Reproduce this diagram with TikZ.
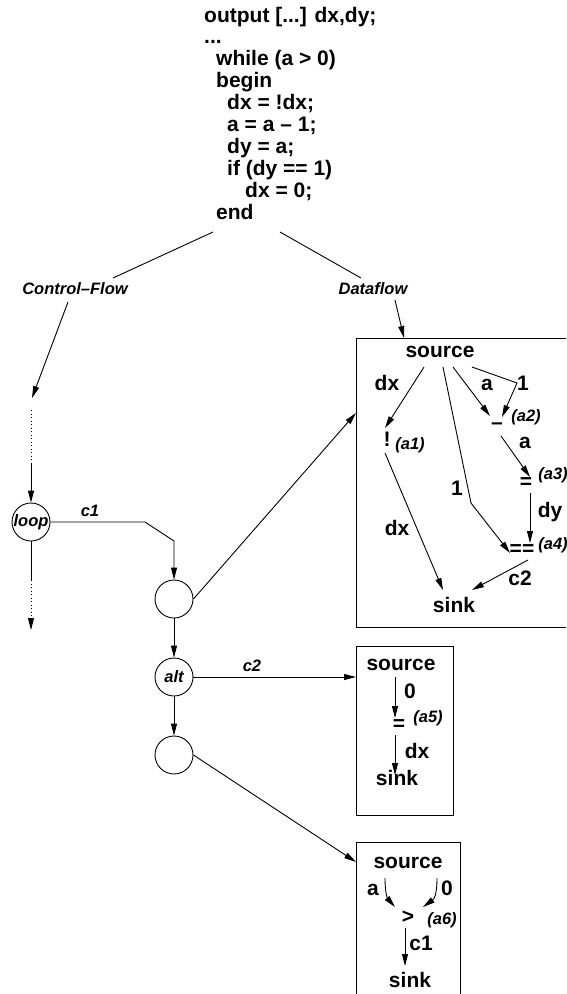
\documentclass[tikz,border=0pt]{standalone}
\usepackage{fontspec}
\setmainfont{Liberation Sans}
\usetikzlibrary{arrows.meta,calc}
\begin{document}
\begin{tikzpicture}[x=1pt,y=-1pt,
  code/.style={anchor=base west,inner sep=0pt,font=\fontsize{21}{22}\selectfont\bfseries},
  lbl/.style={inner sep=0pt,text height=15pt,text depth=4.5pt,font=\fontsize{21}{22}\selectfont\bfseries},
  itl/.style={inner sep=0pt,text height=12pt,text depth=3.5pt,font=\fontsize{16.5}{18}\selectfont\bfseries\itshape},
  conn/.style={line width=0.9pt},
  arr/.style={conn,-{Triangle[length=12pt,width=6pt]}},
  dots/.style={line width=0.9pt,dash pattern=on 0.9pt off 2.6pt},
  circ/.style={circle,draw,line width=0.9pt,minimum size=38pt,inner sep=0pt,
    font=\fontsize{16.5}{18}\selectfont\bfseries\itshape},
  boxnode/.style={draw,line width=0.9pt,anchor=north west,inner sep=0pt}]
\useasboundingbox (0,0) rectangle (566,994);
\clip (0,0) rectangle (566,994);
% code
\node[code] (l0) at (204,22) {output [...] dx,dy;};
\node[code] (l1) at (204,43.9) {...};
\node[code] (l2) at (216,65.8) {while (a > 0)};
\node[code] (l3) at (216,87.7) {begin};
\node[code] (l4) at (227,109.6) {dx = !dx;};
\node[code] (l5) at (227,131.5) {a = a -- 1;};
\node[code] (l6) at (227,153.4) {dy = a;};
\node[code] (l7) at (227,175.3) {if (dy == 1)};
\node[code] (l8) at (245,197.2) {dx = 0;};
\node[code] (l9) at (216,219.1) {end};
\coordinate (cTop) at (213,232);
\coordinate (dTop) at (280,232);
% labels
\node[itl] (cf) at (75,290) {Control--Flow};
\node[itl] (df) at (373,290) {Dataflow};
\draw[conn] (cTop) -- ($(cf)+(38,-12)$);
\draw[conn] (dTop) -- ($(df)+(-12,-12)$);
% boxes
\node[boxnode,minimum width=220pt,minimum height=289pt] (box1) at (356,338) {};
\node[boxnode,minimum width=97pt,minimum height=169pt] (box2) at (356,646) {};
\node[boxnode,minimum width=104pt,minimum height=170pt] (box3) at (356,842) {};
\draw[arr] ($(df)+(22,10)$) -- ($(box1.north west)+(48,0)$);
% control flow column
\coordinate (dotA) at (31,410);
\coordinate (dotB) at (31,463);
\draw[arr] ($(cf)+(-7,12)$) -- ($(dotA)+(1,-12)$);
\draw[dots] (dotA) -- (dotB);
\node[circ] (loop) at (31,522) {loop};
\draw[arr] (dotB) -- (loop);
\coordinate (dotC) at (31,580);
\coordinate (dotD) at (31,630);
\draw[conn] (loop) -- (dotC);
\draw[dots,-{Triangle[length=12pt,width=6pt]}] (dotC) -- (dotD);
\node[circ] (n1) at (174,599) {};
\node[circ] (alt) at (174,677) {alt};
\node[circ] (n3) at (174,755) {};
\coordinate (c1a) at (145,522);
\coordinate (c1b) at (174,541);
\draw[arr] (loop.east) -- (c1a) -- (c1b) -- (n1);
\node[itl] (c1l) at (90,512) {c1};
\draw[arr] (n1.east) -- ($(box1.north west)+(0,75)$);
\draw[arr] (n1) -- (alt);
\draw[arr] (alt.east) -- (alt.east -| box2.west);
\node[itl] (c2l) at (252,667) {c2};
\draw[arr] (alt) -- (n3);
\draw[arr] (n3.east) -- ($(box3.north west)+(0,20)$);
% box 1
\node[lbl] (src1) at (440,352) {source};
\node[lbl] (not1) at (387,441) {!};
\node[lbl] (minus) at (497,424) {--};
\node[lbl] (eq1) at (526,483) {=};
\node[lbl] (eqeq) at (522,550) {==};
\node[lbl] (sink1) at (454,607) {sink};
\node[lbl] (t1) at (387,385) {dx};
\node[itl] (t2) at (410,445) {(a1)};
\node[lbl] (t3) at (487,385) {a};
\node[lbl] (t4) at (523,385) {1};
\node[itl] (t5) at (526,417) {(a2)};
\node[lbl] (t6) at (525,443) {a};
\node[itl] (t7) at (553,475) {(a3)};
\node[lbl] (t8) at (457,490) {1};
\node[lbl] (t9) at (550,512) {dy};
\node[itl] (t10) at (553,545) {(a4)};
\node[lbl] (t11) at (397,530) {dx};
\node[lbl] (t12) at (520,580) {c2};
\draw[arr] ($(src1)+(-16,15)$) -- ($(not1)+(-2,-13)$);
\draw[arr] ($(src1)+(3,15)$) -- ($(eqeq)+(-51,-47)$) -- ($(eqeq)+(-12,3)$);
\draw[arr] ($(src1)+(13,15)$) -- ($(minus)+(-7,-8)$);
\draw[arr] ($(src1)+(32,15)$) -- ($(t4)+(-6,-2)$) -- ($(minus)+(5,-7)$);
\draw[arr] ($(minus)+(4,12)$) -- ($(eq1)+(4,-6)$);
\draw[arr] ($(eq1)+(4,10)$) -- ($(eqeq)+(8,-7)$);
\draw[arr] ($(eqeq)+(6,10)$) -- ($(sink1)+(18,-17)$);
\draw[arr] ($(not1)+(-2,12)$) -- ($(sink1)+(-11,-17)$);
% box 2
\node[lbl] (src2) at (401,665) {source};
\node[lbl] (eq2) at (399,725) {=};
\node[lbl] (sink2) at (397,780) {sink};
\node[lbl] (u1) at (410,693) {0};
\node[itl] (u2) at (428,718) {(a5)};
\node[lbl] (u3) at (417,753) {dx};
\draw[arr] ($(src2)+(-6,12)$) -- ($(eq2)+(-4,-7)$);
\draw[arr] ($(eq2)+(-4,10)$) -- ($(sink2)+(-2,-5)$);
% box 3
\node[lbl] (src3) at (408,863) {source};
\node[lbl] (gt) at (408,918) {>};
\node[lbl] (sink3) at (410,982) {sink};
\node[lbl] (v1) at (373,890) {a};
\node[lbl] (v2) at (447,890) {0};
\node[itl] (v3) at (442,920) {(a6)};
\node[lbl] (v4) at (421,945) {c1};
\draw[arr] ($(src3)+(-23,15)$) .. controls ($(src3)+(-23,32)$) and ($(src3)+(-20,36)$) .. ($(gt)+(-13,-11)$);
\draw[arr] ($(src3)+(29,15)$) .. controls ($(src3)+(29,32)$) and ($(src3)+(26,36)$) .. ($(gt)+(15,-11)$);
\draw[arr] ($(gt)+(-3,10)$) -- ($(sink3)+(-5,-16)$);
\end{tikzpicture}
\end{document}
